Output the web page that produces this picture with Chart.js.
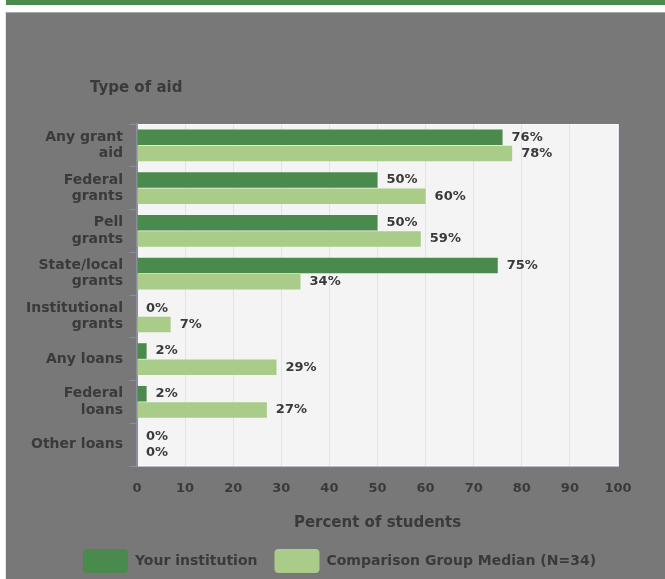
<!DOCTYPE html>
<html>
<head>
<meta charset="utf-8">
<script src="https://cdn.jsdelivr.net/npm/chart.js@4.4.1/dist/chart.umd.min.js"></script>
<style>
    body { margin: 0; background: #ffffff; width: 665px; height: 579px; overflow: hidden; position: relative; }
    #topbar { position: absolute; left: 6px; top: 0; width: 659px; height: 5px; background: #4b8a4d; }
    #frame { position: absolute; left: 5px; top: 12px; width: 659px; height: 566px; background: #787878;
             border-top: 1px solid #a9a9a9; border-left: 1px solid #e8e8e8; }
    #chartBox { position: absolute; left: 0; top: 0; width: 659px; height: 566px; }
</style>
</head>
<body>
<div id="topbar"></div>
<div id="frame">
    <div id="chartBox"><canvas id="aidChart"></canvas></div>
</div>
<script>
// Data
var categories = [
    ['Any grant', 'aid'],
    ['Federal', 'grants'],
    ['Pell', 'grants'],
    ['State/local', 'grants'],
    ['Institutional', 'grants'],
    'Any loans',
    ['Federal', 'loans'],
    'Other loans'
];
var yourInstitution = [76, 50, 50, 75, 0, 2, 2, 0];
var comparisonMedian = [78, 60, 59, 34, 7, 29, 27, 0];
var seriesNames = ['Your institution', 'Comparison Group Median (N=34)'];

var textColor = '#3a3a3a';
var fontFamily = "'DejaVu Sans', sans-serif";

document.addEventListener('DOMContentLoaded', function() {
    // plot area background
    var plotBackground = {
        id: 'plotBackground',
        beforeDraw: function(chart) {
            var a = chart.chartArea;
            var ctx = chart.ctx;
            ctx.save();
            ctx.fillStyle = '#f4f4f4';
            ctx.fillRect(a.left, a.top, a.right - a.left, a.bottom - a.top);
            ctx.strokeStyle = '#fbfbfb';
            ctx.lineWidth = 1;
            ctx.strokeRect(a.left + 0.5, a.top + 0.5, a.right - a.left - 1, a.bottom - a.top - 1);
            ctx.restore();
        }
    };

    // value labels after each bar + the "Type of aid" heading
    var valueLabels = {
        id: 'valueLabels',
        afterDatasetsDraw: function(chart) {
            var ctx = chart.ctx;
            ctx.save();
            ctx.font = 'bold 13px ' + fontFamily;
            ctx.fillStyle = textColor;
            ctx.textBaseline = 'middle';
            ctx.textAlign = 'left';
            chart.data.datasets.forEach(function(ds, i) {
                var meta = chart.getDatasetMeta(i);
                meta.data.forEach(function(bar, j) {
                    ctx.fillText(ds.data[j] + '%', bar.x + 9, bar.y);
                });
            });
            ctx.font = 'bold 15px ' + fontFamily;
            ctx.fillText('Type of aid', 84, 75);
            ctx.restore();
        }
    };

    var ctx = document.getElementById('aidChart').getContext('2d');
    new Chart(ctx, {
        type: 'bar',
        data: {
            labels: categories,
            datasets: [{
                label: seriesNames[0],
                data: yourInstitution,
                backgroundColor: '#4b8a4d',
                borderWidth: 0
            }, {
                label: seriesNames[1],
                data: comparisonMedian,
                backgroundColor: '#a9cc88',
                borderWidth: 0
            }]
        },
        options: {
            indexAxis: 'y',
            responsive: true,
            maintainAspectRatio: false,
            animation: false,
            categoryPercentage: 0.76,
            barPercentage: 0.96,
            layout: {
                padding: { top: 111, right: 0, left: 8, bottom: -4 }
            },
            plugins: {
                legend: {
                    position: 'bottom',
                    labels: {
                        boxWidth: 45,
                        boxHeight: 24,
                        padding: 17,
                        useBorderRadius: true,
                        borderRadius: 4,
                        color: textColor,
                        font: { size: 14, weight: 'bold', family: fontFamily }
                    }
                },
                tooltip: { enabled: false }
            },
            scales: {
                x: {
                    min: 0,
                    max: 100,
                    ticks: {
                        stepSize: 10,
                        padding: 15,
                        color: textColor,
                        font: { size: 13, weight: 'bold', family: fontFamily }
                    },
                    grid: {
                        color: '#dde4f0',
                        drawTicks: false
                    },
                    border: { color: '#b8bcc8' },
                    title: {
                        display: true,
                        text: 'Percent of students',
                        color: textColor,
                        padding: { top: 10, bottom: 0 },
                        font: { size: 15, weight: 'bold', family: fontFamily }
                    },
                    afterFit: function(scale) { scale.height = 66; }
                },
                y: {
                    ticks: {
                        padding: 6,
                        color: textColor,
                        font: { size: 14, weight: 'bold', family: fontFamily, lineHeight: 1.15 }
                    },
                    grid: {
                        offset: true,
                        drawOnChartArea: false,
                        tickLength: 8,
                        color: '#8a8e9a'
                    },
                    border: { color: '#8a8e9a', width: 2 },
                    afterFit: function(scale) { scale.width = 123; }
                },
                // empty axis on the right, only to keep the plot off the right edge
                yRight: {
                    axis: 'y',
                    position: 'right',
                    ticks: { display: false },
                    grid: { display: false },
                    border: { display: false },
                    afterFit: function(scale) { scale.width = 47; }
                }
            }
        },
        plugins: [plotBackground, valueLabels]
    });
});
</script>
</body>
</html>
